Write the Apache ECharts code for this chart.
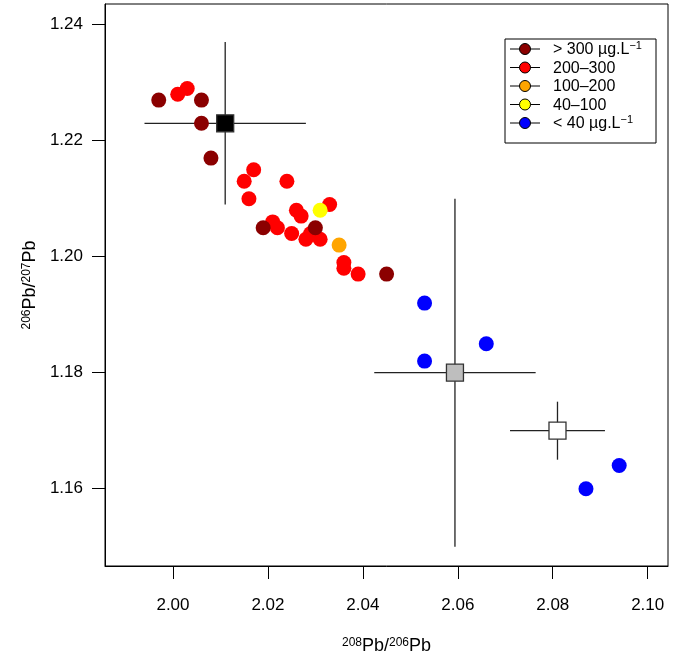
<!DOCTYPE html>
<html>
<head>
<meta charset="utf-8">
<script src="https://cdn.jsdelivr.net/npm/echarts@6/dist/echarts.min.js"></script>
<style>html,body{margin:0;padding:0;background:#fff}#c{width:673px;height:665px}</style>
</head>
<body>
<div id="c"></div>
<script>
// ---- data ----
const xTicks = [2.00, 2.02, 2.04, 2.06, 2.08, 2.10];
const yTicks = [1.16, 1.18, 1.20, 1.22, 1.24];

const darkRedX = [1.997, 2.006, 2.006, 2.008, 2.019, 2.030, 2.045];
const darkRedY = [1.227, 1.227, 1.223, 1.217, 1.205, 1.205, 1.197];

const redX = [2.001, 2.003, 2.017, 2.015, 2.016, 2.024, 2.026, 2.027, 2.033, 2.021, 2.022, 2.025, 2.028, 2.031, 2.029, 2.036, 2.036, 2.039];
const redY = [1.228, 1.229, 1.215, 1.213, 1.210, 1.213, 1.208, 1.207, 1.209, 1.206, 1.205, 1.204, 1.203, 1.203, 1.204, 1.199, 1.198, 1.197];

const orangeX = [2.035];
const orangeY = [1.202];

const yellowX = [2.031];
const yellowY = [1.208];

const blueX = [2.053, 2.066, 2.053, 2.094, 2.087];
const blueY = [1.192, 1.185, 1.182, 1.164, 1.160];

const refX = [2.011, 2.0594, 2.081];
const refY = [1.223, 1.180, 1.170];
const refXErr = [0.017, 0.017, 0.010];
const refYErr = [0.014, 0.030, 0.005];
const refFill = ['#000000', '#BEBEBE', '#FFFFFF'];

const legendLabels = ['> 300 µg.L{sup|−1}', '200–300', '100–200', '40–100', '< 40 µg.L{sup|−1}'];
const legendColors = ['#8B0000', '#FF0000', '#FFA500', '#FFFF00', '#0000FF'];

// ---- build ----
const zip = (xs, ys) => xs.map((x, i) => [x, ys[i]]);
const FONT = 'Liberation Sans, Arial, Helvetica, sans-serif';

const chart = echarts.init(document.getElementById('c'), null, {renderer: 'canvas'});

const pointSeries = (name, xs, ys, color) => ({
  name, type: 'scatter', data: zip(xs, ys), symbol: 'circle', symbolSize: 15,
  itemStyle: {color: color, opacity: 1}, z: 3, silent: true, animation: false
});

const legendGraphics = [];
const lx0 = 505, ly0 = 39, lw = 151, lh = 104, rowY0 = 49, rowDy = 18.5;
legendGraphics.push({type: 'rect', shape: {x: lx0, y: ly0, width: lw, height: lh},
  style: {fill: '#fff', stroke: '#000', lineWidth: 1}, z: 100});
legendLabels.forEach((lab, i) => {
  const y = rowY0 + i * rowDy;
  legendGraphics.push({type: 'line', shape: {x1: 510, y1: y, x2: 540, y2: y},
    style: {stroke: '#000', lineWidth: 1}, z: 101});
  legendGraphics.push({type: 'circle', shape: {cx: 525, cy: y, r: 5.5},
    style: {fill: legendColors[i], stroke: '#000', lineWidth: 1}, z: 102});
  legendGraphics.push({type: 'text', x: 553, y: y + 1, z: 102,
    style: {text: lab, fill: '#000', font: '16px ' + FONT, verticalAlign: 'middle', align: 'left',
      rich: {sup: {fontSize: 11, fontFamily: FONT, verticalAlign: 'top', padding: [0, 0, 8, 0]}}}});
});

const option = {
  animation: false,
  backgroundColor: '#fff',
  grid: {left: 105, right: 5, top: 4, bottom: 99, show: true, borderColor: '#000', borderWidth: 1, containLabel: false},
  xAxis: {
    type: 'value', min: 1.98568, max: 2.10428,
    axisLine: {show: true, onZero: false, lineStyle: {color: '#000', width: 1}},
    axisTick: {show: true, length: 13, customValues: xTicks, lineStyle: {color: '#000'}},
    axisLabel: {customValues: xTicks, margin: 31, color: '#000', fontSize: 17, fontFamily: FONT,
      formatter: v => v.toFixed(2)},
    splitLine: {show: false},
    name: '{sup|208}{m|Pb/}{sup|206}{m|Pb}', nameLocation: 'middle', nameGap: 71,
    nameTextStyle: {fontFamily: FONT, color: '#000',
      rich: {m: {fontSize: 18, fontFamily: FONT, color: '#000', verticalAlign: 'bottom'},
             sup: {fontSize: 12, fontFamily: FONT, color: '#000', verticalAlign: 'top'}}}
  },
  yAxis: {
    type: 'value', min: 1.14667, max: 1.24357,
    axisLine: {show: true, onZero: false, lineStyle: {color: '#000', width: 1}},
    axisTick: {show: true, length: 13, customValues: yTicks, lineStyle: {color: '#000'}},
    axisLabel: {customValues: yTicks, margin: 22, color: '#000', fontSize: 17, fontFamily: FONT,
      formatter: v => v.toFixed(2)},
    splitLine: {show: false},
    name: '{sup|206}{m|Pb/}{sup|207}{m|Pb}', nameLocation: 'middle', nameGap: 64, nameRotate: 90,
    nameTextStyle: {fontFamily: FONT, color: '#000',
      rich: {m: {fontSize: 18, fontFamily: FONT, color: '#000', verticalAlign: 'bottom'},
             sup: {fontSize: 12, fontFamily: FONT, color: '#000', verticalAlign: 'top'}}}
  },
  series: [
    {
      type: 'custom', silent: true, z: 2,
      data: refX.map((x, i) => [x, refY[i], refXErr[i], refYErr[i]]),
      renderItem: (params, api) => {
        const x = api.value(0), y = api.value(1), xe = api.value(2), ye = api.value(3);
        const l = api.coord([x - xe, y]), r = api.coord([x + xe, y]);
        const t = api.coord([x, y + ye]), b = api.coord([x, y - ye]);
        const st = {stroke: '#222', lineWidth: 1.3};
        return {type: 'group', children: [
          {type: 'line', shape: {x1: l[0], y1: l[1], x2: r[0], y2: r[1]}, style: st},
          {type: 'line', shape: {x1: t[0], y1: t[1], x2: b[0], y2: b[1]}, style: st}
        ]};
      }
    },
    pointSeries('200–300', redX, redY, '#FF0000'),
    pointSeries('> 300', darkRedX, darkRedY, '#8B0000'),
    pointSeries('100–200', orangeX, orangeY, '#FFA500'),
    pointSeries('40–100', yellowX, yellowY, '#FFFF00'),
    pointSeries('< 40', blueX, blueY, '#0000FF'),
    {
      type: 'scatter', silent: true, z: 4, symbol: 'rect', symbolSize: 17,
      data: refX.map((x, i) => ({value: [x, refY[i]], itemStyle: {color: refFill[i]}})),
      itemStyle: {borderColor: '#333', borderWidth: 1.3, opacity: 1}
    }
  ],
  graphic: legendGraphics
};
chart.setOption(option);
</script>
</body>
</html>
